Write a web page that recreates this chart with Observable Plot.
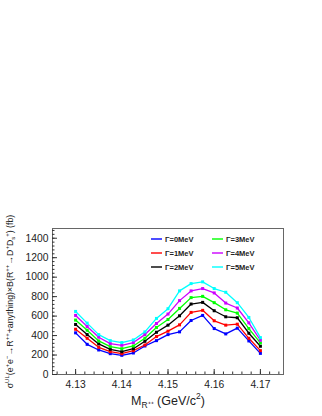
<!DOCTYPE html>
<html><head><meta charset="utf-8">
<script src="https://cdn.jsdelivr.net/npm/d3@7"></script>
<script src="https://cdn.jsdelivr.net/npm/@observablehq/plot@0.6"></script>
<style>
body{margin:0;background:#fff;font-family:"Liberation Sans",Arial,Helvetica,sans-serif}
#wrap{position:relative;width:322px;height:416px;overflow:hidden}
#legend{position:absolute;left:151px;top:232px;display:grid;grid-template-columns:61px 61px;grid-auto-rows:14px;font-weight:bold;font-size:7.5px;color:#222}
#legend .it{display:flex;align-items:center;white-space:nowrap}
#legend svg{margin-right:3px;display:block}
</style></head><body><div id="wrap"></div>
<script>
const mass = [4.13, 4.1325, 4.135, 4.1375, 4.14, 4.1425, 4.145, 4.1475, 4.15, 4.1525, 4.155, 4.1575, 4.16, 4.1625, 4.165, 4.1675, 4.17];
const seriesNames = ["Γ=0MeV", "Γ=1MeV", "Γ=2MeV", "Γ=3MeV", "Γ=4MeV", "Γ=5MeV"];
const seriesColors = ["#0000ff", "#ff0000", "#000000", "#00ff00", "#cc00ff", "#00ffff"];
const w0 = [428, 310, 252, 214, 197, 221, 293, 348, 410, 438, 555, 607, 472, 417, 476, 345, 217];
const w1 = [465, 372, 279, 234, 214, 245, 303, 390, 445, 510, 638, 659, 552, 507, 517, 372, 245];
const w2 = [514, 410, 314, 259, 234, 265, 341, 434, 507, 603, 724, 741, 655, 593, 583, 424, 290];
const w3 = [559, 455, 345, 286, 265, 293, 372, 483, 565, 679, 790, 803, 738, 665, 631, 472, 324];
const w4 = [607, 493, 383, 317, 300, 328, 410, 524, 621, 759, 859, 883, 838, 734, 683, 531, 352];
const w5 = [648, 528, 410, 348, 328, 355, 438, 576, 676, 859, 934, 952, 883, 845, 738, 586, 379];
const xTicks = [4.13, 4.14, 4.15, 4.16, 4.17];
const yTicks = [0, 200, 400, 600, 800, 1000, 1200, 1400];

const allSeries = [w0, w1, w2, w3, w4, w5];
const rows = [];
allSeries.forEach((arr, i) => arr.forEach((v, j) => rows.push({m: mass[j], v, s: seriesNames[i]})));

const xMinor = d3.range(4.126, 4.1745, 0.002).map(d => +d.toFixed(3));
const yMinor = d3.range(0, 1500, 40);

const plot = Plot.plot({
  width: 322, height: 416,
  marginTop: 228, marginBottom: 42, marginLeft: 52, marginRight: 39,
  style: {fontFamily: '"Liberation Sans", Arial, sans-serif', fontSize: "10px", color: "#222", background: "#fff"},
  x: {domain: [4.125, 4.175], label: "M_R (GeV/c2)"},
  y: {domain: [0, 1500], label: "sigma"},
  color: {domain: seriesNames, range: seriesColors},
  marks: [
    Plot.frame({stroke: "#666", strokeWidth: 1}),
    Plot.axisX(xMinor, {tickSize: -2.5, text: null, label: null, stroke: "#333"}),
    Plot.axisX(xTicks, {tickSize: -5, text: null, label: null, stroke: "#333"}),
    Plot.axisX(xTicks, {tickSize: 0, tickPadding: 6, tickFormat: d3.format(".2f"), labelAnchor: "center", labelOffset: 30, fontSize: 10.3}),
    Plot.axisY(yMinor, {tickSize: -2.5, text: null, label: null, stroke: "#333"}),
    Plot.axisY(yTicks, {tickSize: -5, text: null, label: null, stroke: "#333"}),
    Plot.axisY(yTicks, {tickSize: 0, tickPadding: 4, tickFormat: d => String(d), labelAnchor: "center", labelOffset: 46, fontSize: 10.3}),
    Plot.line(rows, {x: "m", y: "v", z: "s", stroke: "s", strokeWidth: 1.3}),
    Plot.dot(rows, {x: "m", y: "v", fill: "s", symbol: "square", r: 1.7})
  ]
});

function richText(sel, parts, fs) {
  const t = sel.node();
  if (!t) return;
  while (t.firstChild) t.removeChild(t.firstChild);
  let cur = 0;
  for (const [txt, shift] of parts) {
    const ts = document.createElementNS("http://www.w3.org/2000/svg", "tspan");
    ts.textContent = txt;
    ts.setAttribute("dy", (shift - cur) + "px");
    if (shift !== 0) ts.setAttribute("font-size", (fs * 0.68) + "px");
    cur = shift;
    t.appendChild(ts);
  }
}
const svg = d3.select(plot);
const yfs = 8.8;
const yl = svg.select('[aria-label="y-axis label"] text');
yl.attr("font-size", yfs + "px");
const up = -yfs * 0.42, dn = yfs * 0.25;
richText(yl, [["σ", 0], ["UL", up], ["(e", 0], ["+", up], ["e", 0], ["−", up], ["→R", 0], ["++", up], ["+anything)×B(R", 0], ["++", up], ["→D", 0], ["+", up], ["D", 0], ["s", dn], ["+", up], [") (fb)", 0]], yfs);
const xfs = 12.5;
const xl = svg.select('[aria-label="x-axis label"] text');
xl.attr("font-size", xfs + "px");
richText(xl, [["M", 0], ["R⁺⁺", xfs * 0.25], [" (GeV/c", 0], ["2", -xfs * 0.42], [")", 0]], xfs);

const wrap = document.getElementById("wrap");
wrap.appendChild(plot);
const leg = d3.select(wrap).append("div").attr("id", "legend");
const order = [0, 3, 1, 4, 2, 5];
for (const i of order) {
  const it = leg.append("div").attr("class", "it");
  const sw = it.append("svg").attr("width", 11).attr("height", 6);
  sw.append("line").attr("x1", 0).attr("x2", 11).attr("y1", 3).attr("y2", 3)
    .attr("stroke", seriesColors[i]).attr("stroke-width", 1.4);
  it.append("span").text(seriesNames[i]);
}
</script></body></html>
